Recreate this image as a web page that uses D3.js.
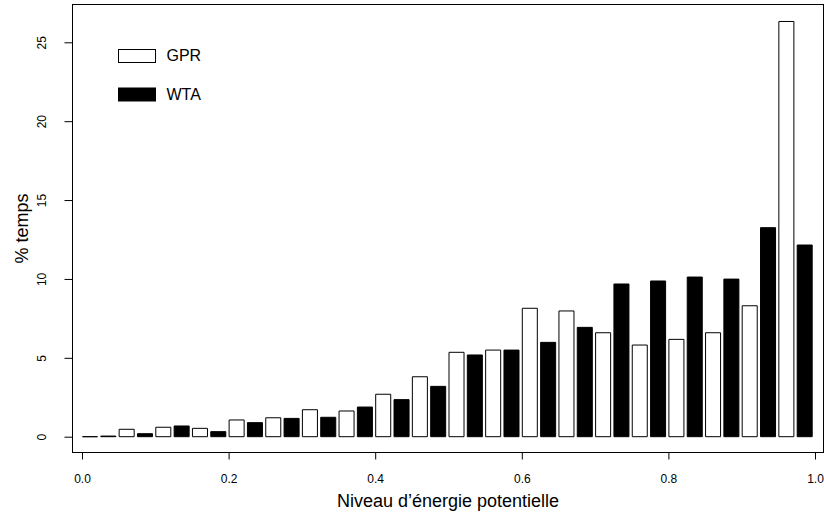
<!DOCTYPE html>
<html>
<head>
<meta charset="utf-8">
<script src="https://cdn.jsdelivr.net/npm/d3@7"></script>
<style>
  html, body { margin: 0; padding: 0; background: #fff; }
  svg { display: block; font-family: "Liberation Sans", Arial, sans-serif; }
</style>
</head>
<body>
<script>
// ---- data ----
const bins = d3.range(20).map(i => i / 20);  // left edge of each energy bin
const gpr = [0, 0.47, 0.6, 0.53, 1.06, 1.2, 1.71, 1.63, 2.69, 3.8, 5.35, 5.49, 8.14, 7.97, 6.59, 5.81, 6.17, 6.59, 8.3, 26.32];
const wta = [0.04, 0.19, 0.68, 0.32, 0.89, 1.16, 1.23, 1.88, 2.35, 3.19, 5.18, 5.49, 5.98, 6.93, 9.68, 9.87, 10.12, 9.99, 13.25, 12.15];
const seriesNames = ["GPR", "WTA"];
const xTicks = [0, 0.2, 0.4, 0.6, 0.8, 1.0];
const yTicks = [0, 5, 10, 15, 20, 25];

const W = 824, H = 516;
const box = { left: 72.5, top: 4.5, right: 823.5, bottom: 452.5 };

const svg = d3.select("body").append("svg").attr("width", W).attr("height", H);

const x = d3.scaleLinear().domain([0, 1]).range([82, 815]);
const y = d3.scaleLinear().domain([0, 25]).range([436.7, 42.3]);

// interleaved bars: GPR then WTA per bin
const bars = [];
bins.forEach((b, i) => {
  bars.push({ k: 2 * i, v: gpr[i], s: 0 });
  bars.push({ k: 2 * i + 1, v: wta[i], s: 1 });
});
const slot = x(1 / 40) - x(0);
const bw = slot * 0.82;

svg.append("g").selectAll("path").data(bars).join("path")
  .attr("d", d => {
    const x0 = x(d.k / 40) + 0.5, x1 = x0 + bw;
    const y0 = y(0), y1 = y(d.v);
    return `M${x0},${y0}L${x0},${y1}L${x1},${y1}L${x1},${y0}Z`;
  })
  .attr("fill", d => d.s === 0 ? "#fff" : "#000")
  .attr("stroke", "#000")
  .attr("stroke-width", 1);

// box
svg.append("rect")
  .attr("x", box.left).attr("y", box.top)
  .attr("width", box.right - box.left).attr("height", box.bottom - box.top)
  .attr("fill", "none").attr("stroke", "#000").attr("stroke-width", 1);

// x axis
const xa = svg.append("g").attr("transform", `translate(0,${box.bottom})`)
  .call(d3.axisBottom(x).tickValues(xTicks).tickFormat(d3.format(".1f")).tickSize(7).tickPadding(15));
xa.select(".domain").remove();
xa.selectAll("line").attr("stroke", "#000");
xa.selectAll("text").attr("font-size", 12).attr("fill", "#000")
  .attr("font-family", "Liberation Sans, Arial, sans-serif");

// y axis
const ya = svg.append("g").attr("transform", `translate(${box.left},0)`)
  .call(d3.axisLeft(y).tickValues(yTicks).tickSize(8).tickFormat(d3.format("d")));
ya.select(".domain").remove();
ya.selectAll("line").attr("stroke", "#000");
ya.selectAll("text").remove();
ya.selectAll(".tick").append("text")
  .attr("transform", "translate(-26.5,0) rotate(-90)")
  .attr("text-anchor", "middle")
  .attr("font-size", 12)
  .attr("fill", "#000")
  .attr("font-family", "Liberation Sans, Arial, sans-serif")
  .text(d => d);

// axis titles
svg.append("text")
  .attr("x", (box.left + box.right) / 2).attr("y", 507)
  .attr("text-anchor", "middle").attr("font-size", 18).attr("fill", "#000")
  .text("Niveau d\u2019énergie potentielle");
svg.append("text")
  .attr("transform", `translate(28,${(box.top + box.bottom) / 2}) rotate(-90)`)
  .attr("text-anchor", "middle").attr("font-size", 18).attr("fill", "#000")
  .text("% temps");

// legend
const leg = svg.append("g");
seriesNames.forEach((name, i) => {
  const ly = 49.5 + i * 38.5;
  leg.append("rect")
    .attr("x", 118.5).attr("y", ly).attr("width", 37).attr("height", 13)
    .attr("fill", i === 0 ? "#fff" : "#000").attr("stroke", "#000");
  leg.append("text")
    .attr("x", 166.5).attr("y", ly + 11.5)
    .attr("font-size", 16).attr("fill", "#000")
    .text(name);
});
</script>
</body>
</html>
